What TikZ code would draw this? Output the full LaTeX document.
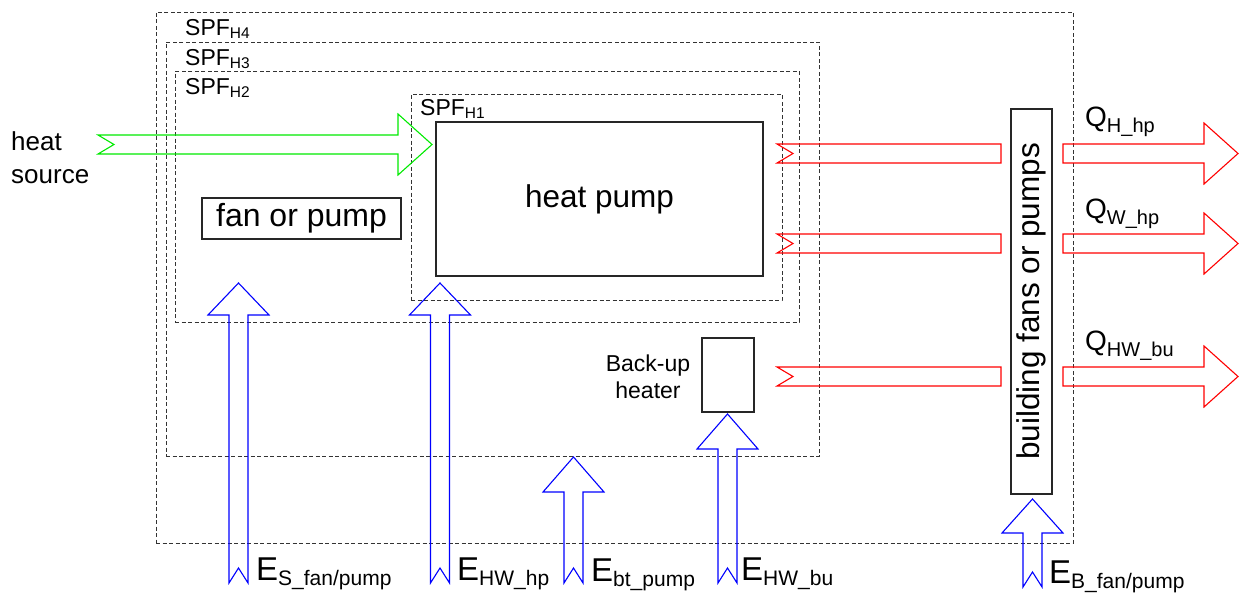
\documentclass[tikz,border=0pt]{standalone}
\usepackage{fontspec}
\setmainfont{Liberation Sans}
\newcommand{\spflab}[1]{\fontsize{23}{23}\selectfont SPF\raisebox{-3pt}{\fontsize{15.5}{15.5}\selectfont #1}}
\newcommand{\elab}[1]{\fontsize{33}{33}\selectfont E\raisebox{-5pt}{\fontsize{21}{21}\selectfont #1}}
\newcommand{\qlab}[1]{\fontsize{28}{28}\selectfont Q\raisebox{-6pt}{\fontsize{20}{20}\selectfont #1}}
% upward block arrow: xc, tip, headbase, tail
\newcommand{\upblk}[4]{%
  \draw[bluearr] (#1-9.5,#4) -- (#1,#4-15) -- (#1+9.5,#4) -- (#1+9.5,#3) -- (#1+30.5,#3)
     -- (#1,#2) -- (#1-30.5,#3) -- (#1-9.5,#3) -- cycle;}
% right block arrow (flat tail): yc
\newcommand{\rightblk}[1]{%
  \draw[redarr] (1063,#1-9.5) -- (1204,#1-9.5) -- (1204,#1-30.5) -- (1238,#1)
     -- (1204,#1+30.5) -- (1204,#1+9.5) -- (1063,#1+9.5) -- cycle;}
% notched red bar: yc
\newcommand{\redbar}[1]{%
  \draw[redarr] (777,#1-9.5) -- (1001,#1-9.5) -- (1001,#1+9.5) -- (777,#1+9.5) -- (793,#1) -- cycle;}
\definecolor{arrgreen}{RGB}{0,235,0}
\definecolor{arrred}{RGB}{255,0,0}
\definecolor{arrblue}{RGB}{0,0,255}
\tikzset{
  spfbox/.style={draw=black!80, dash pattern=on 4pt off 2.5pt, line width=0.9pt, inner sep=0pt},
  solidbox/.style={draw=black!85, line width=1.3pt, inner sep=0pt},
  bluearr/.style={draw=arrblue, line width=1.1pt, line join=miter},
  redarr/.style={draw=arrred, line width=1.1pt, line join=miter},
  greenarr/.style={draw=arrgreen, line width=1.1pt, line join=miter},
  lbl/.style={inner sep=0pt, anchor=base west},
}
\begin{document}
\begin{tikzpicture}[x=1pt,y=-1pt]
\useasboundingbox (0,0) rectangle (1240,592);
\fill[white] (0,0) rectangle (1240,592);

% dashed system boundaries
\node[spfbox, minimum width=917pt, minimum height=531pt] (h4) at (614.5,277.5) {};
\node[spfbox, minimum width=653pt, minimum height=414pt] (h3) at (492.5,249) {};
\node[spfbox, minimum width=624pt, minimum height=251pt] (h2) at (487,196.5) {};
\node[spfbox, minimum width=371pt, minimum height=206pt] (h1) at (596.5,197) {};

\node[lbl] (lh4) at (185,35) {\spflab{H4}};
\node[lbl] (lh3) at (185,65) {\spflab{H3}};
\node[lbl] (lh2) at (185,94) {\spflab{H2}};
\node[lbl] (lh1) at (420,115) {\spflab{H1}};

% solid component boxes
\node[solidbox, minimum width=327pt, minimum height=154pt, font=\fontsize{31.5}{31.5}\selectfont] (hp) at (599.5,199) {heat pump};
\node[solidbox, minimum width=199pt, minimum height=41pt, font=\fontsize{32}{32}\selectfont] (fan) at (301.5,218.5) {fan or pump};
\node[solidbox, minimum width=52pt, minimum height=74pt] (bu) at (728,375) {};
\node[solidbox, minimum width=385pt, minimum height=41pt, rotate=90, font=\fontsize{31.5}{31.5}\selectfont] (bld) at (1031.5,301.5) {building fans or pumps};
\node[inner sep=0pt, anchor=base, font=\fontsize{23}{23}\selectfont] (bu1) at (648,371) {Back-up};
\node[inner sep=0pt, anchor=base, font=\fontsize{23}{23}\selectfont] (bu2) at (648,398) {heater};

% heat source
\node[lbl, font=\fontsize{26}{26}\selectfont] (hs1) at (11,150) {heat};
\node[lbl, font=\fontsize{26}{26}\selectfont] (hs2) at (11,183) {source};
\draw[greenarr] (98,135) -- (398,135) -- (398,114) -- (432,144.5) -- (398,175) -- (398,154) -- (98,154) -- (114,144.5) -- cycle;

% heat outputs
\redbar{153.5}
\redbar{243.5}
\redbar{376.5}
\rightblk{153.5}
\rightblk{243.5}
\rightblk{376.5}
\node[lbl] (qh) at (1085,126) {\qlab{H\_hp}};
\node[lbl] (qw) at (1085,218) {\qlab{W\_hp}};
\node[lbl] (qhw) at (1085,350) {\qlab{HW\_bu}};

% electricity inputs
\upblk{238.5}{283}{315}{583}
\upblk{440}{283}{315}{583}
\upblk{573.5}{457}{492}{583}
\upblk{727.5}{414}{449}{583}
\upblk{1032.5}{499}{533}{587}
\node[lbl] (es) at (256,580) {\elab{S\_fan/pump}};
\node[lbl] (ehw) at (457,580) {\elab{HW\_hp}};
\node[lbl] (ebt) at (591,581) {\elab{bt\_pump}};
\node[lbl] (ehb) at (741,580) {\elab{HW\_bu}};
\node[lbl] (eb) at (1049,583) {\elab{B\_fan/pump}};
\end{tikzpicture}
\end{document}
